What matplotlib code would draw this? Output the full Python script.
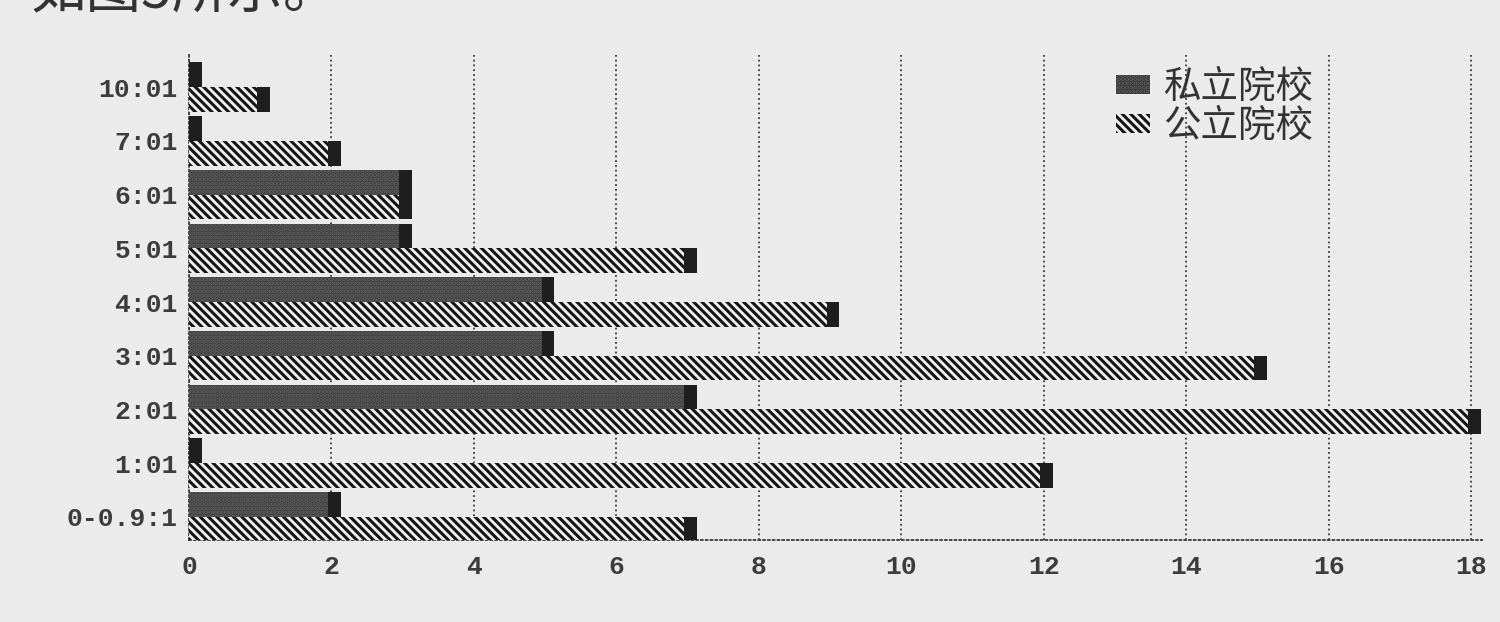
import matplotlib.pyplot as plt
from matplotlib.patches import Patch

plt.rcParams['font.family'] = ['Noto Sans CJK SC', 'DejaVu Sans']
plt.rcParams['hatch.linewidth'] = 2.2

# data
cats = ['0-0.9:1', '1:01', '2:01', '3:01', '4:01', '5:01', '6:01', '7:01', '10:01']
private = [2, 0, 7, 5, 5, 3, 3, 0, 0]    # 私立院校
public = [7, 12, 18, 15, 9, 7, 3, 2, 1]  # 公立院校

bg = '#ebebeb'
fig = plt.figure(figsize=(15, 6.22), dpi=100, facecolor=bg)
ax = fig.add_axes([0.126, 0.1318, 0.862, 0.78], facecolor=bg)

h = 0.46
cap = 0.18
pos = list(range(len(cats)))
yp = [i + h / 2 for i in pos]
yq = [i - h / 2 for i in pos]

# private: dark stippled bars
ax.barh(yp, private, height=h, color='#3a3a3a', edgecolor='#606060',
        hatch='....', linewidth=0, zorder=3)
# public: hatched bars
ax.barh(yq, public, height=h, color='#f0f0f0', edgecolor='#151515',
        hatch='\\\\\\\\', linewidth=0, zorder=3)

# dark end caps (the 3d side of each bar)
ax.barh(yp, cap, left=[v - 0.05 if v > 0 else 0 for v in private],
        height=h, color='#1e1e1e', linewidth=0, zorder=4)
ax.barh(yq, cap, left=[v - 0.05 if v > 0 else 0 for v in public],
        height=h, color='#1e1e1e', linewidth=0, zorder=4)

ax.set_xlim(0, 18.15)
ax.set_ylim(-0.43, 8.6)
ax.set_xticks(range(0, 19, 2))
ax.set_yticks(pos)
ax.set_yticklabels(cats)
ax.tick_params(length=0, labelsize=19, labelcolor='#3c3c3c')
ax.tick_params(axis='x', pad=11)
ax.tick_params(axis='y', pad=8)
for lab in ax.get_xticklabels() + ax.get_yticklabels():
    lab.set_family('Liberation Mono')
    lab.set_fontweight('bold')

ax.xaxis.grid(True, ls=':', color='#3a3a3a', lw=1.3)
ax.set_axisbelow(True)
for s in ['top', 'right']:
    ax.spines[s].set_visible(False)
for s in ['left', 'bottom']:
    ax.spines[s].set_linestyle(':')
    ax.spines[s].set_color('#3a3a3a')
    ax.spines[s].set_linewidth(1.3)

handles = [Patch(facecolor='#2e2e2e', edgecolor='#606060', hatch='....', linewidth=0),
           Patch(facecolor='#f0f0f0', edgecolor='#151515', hatch='\\\\\\\\', linewidth=0)]
leg = fig.legend(handles, ['私立院校', '公立院校'], loc='upper left',
                 bbox_to_anchor=(1090 / 1500, 1 - 42 / 622), frameon=False,
                 fontsize=27, handlelength=0.9, handleheight=0.4,
                 handletextpad=0.35, labelspacing=0.0, borderpad=0.2)
for t in leg.get_texts():
    t.set_color('#333333')

# caption line of the page, cut off at the top
fig.text(0.02, 1 - 20 / 622, '如图5所示。', va='bottom', fontsize=40, color='#333333')

fig.savefig('out.png', dpi=100, facecolor=bg)
